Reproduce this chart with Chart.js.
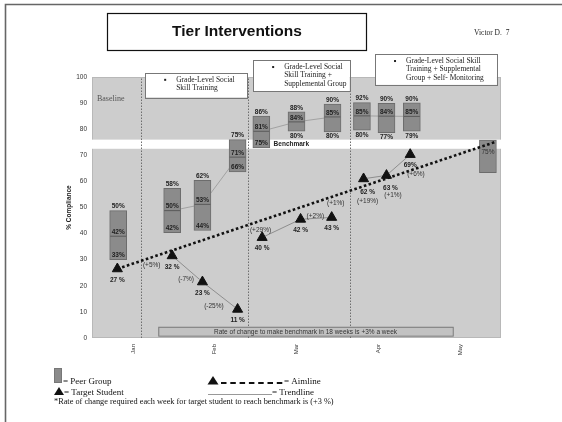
<!DOCTYPE html>
<html>
<head>
<meta charset="utf-8">
<script src="https://cdn.jsdelivr.net/npm/chart.js@4.4.1/dist/chart.umd.min.js"></script>
<style>
  html, body { margin: 0; padding: 0; background: #fff; }
  #wrap { width: 562px; height: 422px; position: relative; }
</style>
</head>
<body>
<div id="wrap"><canvas id="chart"></canvas></div>
<script>
// months on the x axis (x value = month index, fractions = weeks in between)
const months = ['Jan', 'Feb', 'Mar', 'Apr', 'May'];

// peer group boxes (low / median / high), with the printed labels
const peerX    = [-0.18, 0.48, 0.85, 1.28, 1.57, 2.00, 2.44, 2.80, 3.10, 3.41];
const peerLow  = [30.0, 40.4, 41.2, 63.6, 72.8, 79.2, 79.0, 79.6, 78.7, 79.2];
const peerMid  = [39.0, 48.8, 51.2, 69.3, 79.2, 82.8, 84.7, 85.1, 85.0, 84.9];
const peerHigh = [48.8, 57.3, 60.4, 76.0, 85.0, 86.7, 89.6, 90.2, 89.9, 90.1];
const peerHighText = ['50%', '58%', '62%', '75%', '86%', '88%', '90%', '92%', '90%', '90%'];
const peerMidText  = ['42%', '50%', '53%', '71%', '81%', '84%', '85%', '85%', '84%', '85%'];
const peerLowText  = ['33%', '42%', '44%', '66%', '75%', '80%', '80%', '80%', '77%', '79%'];

// goal box at the end of the year
const goalX = [4.34];
const goalLow = [63.3];
const goalHigh = [75.8];
const goalText = ['75%'];

// target student
const studentX = [-0.19, 0.48, 0.85, 1.28, 1.58, 2.05, 2.43, 2.82, 3.10, 3.39];
const studentY = [26.5, 31.5, 21.5, 11.0, 38.5, 45.5, 46.2, 61.0, 62.3, 70.3];
const studentText = ['27 %', '32 %', '23 %', '11 %', '40 %', '42 %', '43 %', '62 %', '63 %', '69%'];

// week to week change labels
const changeX = [0.23, 0.65, 0.99, 1.56, 2.23, 2.48, 2.87, 3.18, 3.46];
const changeY = [27.7, 22.7, 12.3, 41.2, 46.7, 51.8, 52.4, 54.6, 62.6];
const changeText = ['(+5%)', '(-7%)', '(-25%)', '(+29%)', '(+2%)', '(+1%)', '(+19%)', '(+1%)', '(+6%)'];

// phases (tier changes) and their descriptions
const phaseStart = [0.1, 1.41, 2.66];
const phaseText = [
  ['Grade-Level Social', 'Skill Training'],
  ['Grade-Level Social', 'Skill Training +', 'Supplemental Group'],
  ['Grade-Level Social Skill', 'Training + Supplemental', 'Group + Self- Monitoring']
];
// the points that are joined by a trendline inside each phase
const phaseMembers = [[1, 2, 3], [4, 5, 6], [7, 8, 9]];

const benchmarkLow = 72.5;
const benchmarkHigh = 76;
const aimX = [-0.19, 4.42];
const aimY = [26.5, 75];

const SANS = '"Liberation Sans", Arial, sans-serif';
const SERIF = '"Liberation Serif", "Times New Roman", serif';

function font(size, weight, family) {
  return (weight || 'normal') + ' ' + size + 'px ' + family;
}

function trendSet(xs, ys, idx, color) {
  return {
    type: 'line',
    data: idx.map(i => ({x: xs[i], y: ys[i]})),
    borderColor: color,
    borderWidth: 1,
    pointRadius: 0,
    order: 10
  };
}

const datasets = [];
phaseMembers.forEach(g => datasets.push(trendSet(peerX, peerMid, g, '#a2a2a2')));
phaseMembers.forEach(g => datasets.push(trendSet(studentX, studentY, g, '#8e8e8e')));
datasets.push({
  type: 'bar',
  data: peerX.map((x, i) => ({x: x, y: [peerLow[i], peerHigh[i]]})),
  backgroundColor: '#8b8b8b',
  borderColor: '#6c6c6c',
  borderWidth: 1,
  borderSkipped: false,
  barThickness: 17,
  grouped: false,
  order: 8
});
datasets.push({
  type: 'bar',
  data: goalX.map((x, i) => ({x: x, y: [goalLow[i], goalHigh[i]]})),
  backgroundColor: '#8b8b8b',
  borderColor: '#6c6c6c',
  borderWidth: 1,
  borderSkipped: false,
  barThickness: 17,
  grouped: false,
  order: 8
});
datasets.push({
  type: 'scatter',
  data: peerX.map((x, i) => ({x: x, y: peerMid[i]})),
  pointStyle: 'line',
  pointRadius: 8,
  pointBorderColor: '#5a5a5a',
  pointBorderWidth: 1,
  showLine: false,
  order: 6
});
datasets.push({
  type: 'line',
  data: aimX.map((x, i) => ({x: x, y: aimY[i]})),
  borderColor: '#111',
  borderWidth: 2.6,
  borderDash: [2.6, 2.4],
  pointRadius: 0,
  order: 4
});
datasets.push({
  type: 'scatter',
  data: studentX.map((x, i) => ({x: x, y: studentY[i]})),
  pointStyle: 'triangle',
  pointRadius: 5.8,
  backgroundColor: '#111',
  borderColor: '#111',
  borderWidth: 1,
  order: 1
});

function text(ctx, str, x, y, f, color, align) {
  ctx.font = f;
  ctx.fillStyle = color || '#222';
  ctx.textAlign = align || 'center';
  ctx.textBaseline = 'middle';
  ctx.fillText(str, x, y);
}

const decor = {
  id: 'decor',
  beforeDraw(chart) {
    const ctx = chart.ctx;
    ctx.save();
    ctx.fillStyle = '#fff';
    ctx.fillRect(0, 0, chart.width, chart.height);
    // page frame
    ctx.strokeStyle = '#666';
    ctx.lineWidth = 1.6;
    ctx.beginPath();
    ctx.moveTo(chart.width, 4.5);
    ctx.lineTo(5.5, 4.5);
    ctx.lineTo(5.5, chart.height);
    ctx.stroke();
    // title box
    ctx.fillStyle = '#fff';
    ctx.fillRect(107.5, 13.5, 259, 37);
    ctx.strokeStyle = '#111';
    ctx.lineWidth = 1.2;
    ctx.strokeRect(107.5, 13.5, 259, 37);
    text(ctx, 'Tier Interventions', 237, 32, font(15.5, 'bold', SANS), '#111');
    text(ctx, 'Victor D.  7', 474, 33, font(7.5, 'normal', SERIF), '#222', 'left');
    ctx.restore();
  },
  beforeDatasetsDraw(chart) {
    const {ctx, chartArea: a, scales: {x, y}} = chart;
    ctx.save();
    ctx.fillStyle = '#cdcdcd';
    ctx.fillRect(a.left, a.top, a.right - a.left, a.bottom - a.top);
    ctx.strokeStyle = '#b8b8b8';
    ctx.lineWidth = 1;
    ctx.strokeRect(a.left + 0.5, a.top + 0.5, a.right - a.left - 1, a.bottom - a.top - 1);
    // benchmark band
    const bt = y.getPixelForValue(benchmarkHigh), bb = y.getPixelForValue(benchmarkLow);
    ctx.fillStyle = '#fff';
    ctx.fillRect(a.left, bt, a.right - a.left, bb - bt);
    // phase change lines
    ctx.strokeStyle = '#6e6e6e';
    ctx.lineWidth = 1;
    ctx.setLineDash([1.5, 1.5]);
    phaseStart.forEach(v => {
      const px = Math.round(x.getPixelForValue(v)) + 0.5;
      ctx.beginPath();
      ctx.moveTo(px, a.bottom);
      ctx.lineTo(px, a.top);
      ctx.stroke();
    });
    ctx.setLineDash([]);
    text(ctx, 'Baseline', x.getPixelForValue(-0.44), y.getPixelForValue(91.6), font(8, 'normal', SERIF), '#555', 'left');
    // rate of change box
    const rl = x.getPixelForValue(0.31), rr = x.getPixelForValue(3.91);
    const rt = y.getPixelForValue(4.3), rb = y.getPixelForValue(0.9);
    ctx.fillStyle = '#c2c2c2';
    ctx.fillRect(rl, rt, rr - rl, rb - rt);
    ctx.strokeStyle = '#7a7a7a';
    ctx.strokeRect(rl + 0.5, rt + 0.5, rr - rl, rb - rt);
    text(ctx, 'Rate of change to make benchmark in 18 weeks is +3% a week', (rl + rr) / 2, (rt + rb) / 2 + 0.5,
      font(6.5, 'normal', SANS), '#333');
    ctx.restore();
  },
  afterDatasetsDraw(chart) {
    const {ctx, scales: {x, y}} = chart;
    ctx.save();
    const lf = font(6.5, 'bold', SANS);
    peerX.forEach((v, i) => {
      const px = x.getPixelForValue(v);
      text(ctx, peerHighText[i], px, y.getPixelForValue(peerHigh[i]) - 4, lf, '#222');
      text(ctx, peerMidText[i], px, y.getPixelForValue(peerMid[i]) - 4, lf, '#222');
      const below = i >= 5;
      const lowY = y.getPixelForValue(peerLow[i]) + (below ? 4.5 : -4.5);
      text(ctx, peerLowText[i], px, lowY, lf, '#222');
    });
    goalX.forEach((v, i) => {
      text(ctx, goalText[i], x.getPixelForValue(v), y.getPixelForValue(goalHigh[i]) + 12, font(6.5, 'normal', SANS), '#333');
    });
    studentX.forEach((v, i) => {
      const shift = (i === 7 || i === 8) ? 4 : 0;
      text(ctx, studentText[i], x.getPixelForValue(v) + shift, y.getPixelForValue(studentY[i]) + 11 + shift / 2, lf, '#222');
    });
    changeX.forEach((v, i) => {
      text(ctx, changeText[i], x.getPixelForValue(v), y.getPixelForValue(changeY[i]), font(6.5, 'normal', SANS), '#333');
    });
    text(ctx, 'Benchmark', x.getPixelForValue(1.72), y.getPixelForValue(74.3), font(6.5, 'bold', SANS), '#222', 'left');

    // phase description boxes (placed on the x scale, above the top of the y range)
    const boxes = [
      {l: 0.15, r: 1.40, t: 101.6, b: 92.2},
      {l: 1.47, r: 2.65, t: 106.5, b: 94.6},
      {l: 2.96, r: 4.45, t: 108.8, b: 97.0}
    ];
    boxes.forEach((bx, i) => {
      const l = x.getPixelForValue(bx.l), r = x.getPixelForValue(bx.r);
      const t = y.getPixelForValue(bx.t), b = y.getPixelForValue(bx.b);
      ctx.fillStyle = '#fff';
      ctx.fillRect(l, t, r - l, b - t);
      ctx.strokeStyle = '#777';
      ctx.lineWidth = 1;
      ctx.strokeRect(Math.round(l) + 0.5, Math.round(t) + 0.5, Math.round(r - l), Math.round(b - t));
      const lines = phaseText[i];
      const lh = 8.3;
      const startY = t + 7;
      const bulletX = l + 20;
      ctx.fillStyle = '#222';
      ctx.fillRect(bulletX - 1, startY - 1, 2, 2);
      lines.forEach((s, k) => {
        text(ctx, s, bulletX + 11, startY + k * lh, font(7.5, 'normal', SERIF), '#222', 'left');
      });
    });
    ctx.restore();
  },
  afterDraw(chart) {
    const ctx = chart.ctx;
    ctx.save();
    const lf = font(9, 'normal', SERIF);
    // peer group swatch
    ctx.fillStyle = '#8b8b8b';
    ctx.fillRect(54, 368, 8, 15);
    ctx.strokeStyle = '#777';
    ctx.lineWidth = 1;
    ctx.strokeRect(54.5, 368.5, 7, 14);
    text(ctx, '= Peer Group', 63, 381.5, lf, '#111', 'left');
    // triangles
    ctx.fillStyle = '#111';
    ctx.beginPath();
    ctx.moveTo(59, 387); ctx.lineTo(64, 395); ctx.lineTo(54, 395); ctx.closePath();
    ctx.fill();
    text(ctx, '= Target Student', 64, 392.5, lf, '#111', 'left');
    ctx.beginPath();
    ctx.moveTo(213, 376); ctx.lineTo(218.5, 384.5); ctx.lineTo(207.5, 384.5); ctx.closePath();
    ctx.fill();
    ctx.strokeStyle = '#111';
    ctx.lineWidth = 2;
    ctx.setLineDash([5.5, 3.8]);
    ctx.beginPath();
    ctx.moveTo(221, 383); ctx.lineTo(283, 383);
    ctx.stroke();
    ctx.setLineDash([]);
    text(ctx, '= Aimline', 284, 381.5, lf, '#111', 'left');
    ctx.strokeStyle = '#999';
    ctx.lineWidth = 1.2;
    ctx.beginPath();
    ctx.moveTo(208, 394.5); ctx.lineTo(272, 394.5);
    ctx.stroke();
    text(ctx, '= Trendline', 272, 392.5, lf, '#111', 'left');
    text(ctx, '*Rate of change required each week for target student to reach benchmark is (+3 %)', 54, 402,
      font(8.3, 'normal', SERIF), '#111', 'left');
    ctx.restore();
  }
};

new Chart(document.getElementById('chart'), {
  type: 'bar',
  data: {datasets: datasets},
  options: {
    responsive: true,
    maintainAspectRatio: false,
    animation: false,
    events: [],
    layout: {padding: {left: 60, top: 77, right: 61, bottom: 0}},
    plugins: {
      legend: {display: false},
      tooltip: {enabled: false},
      title: {display: false}
    },
    scales: {
      x: {
        type: 'linear',
        min: -0.5,
        max: 4.5,
        offset: false,
        grid: {display: false, drawTicks: false},
        border: {display: false},
        afterBuildTicks: axis => { axis.ticks = months.map((m, i) => ({value: i})); },
        afterFit: axis => { axis.height = 84; },
        ticks: {
          callback: v => months[v],
          minRotation: 90,
          maxRotation: 90,
          padding: 6,
          color: '#333',
          font: {family: SANS, size: 6}
        }
      },
      y: {
        min: 0,
        max: 100,
        grid: {display: false, drawTicks: false},
        border: {display: false},
        afterFit: axis => { axis.width = 32; },
        ticks: {stepSize: 10, padding: 5, color: '#333', font: {family: SANS, size: 6.5}},
        title: {
          display: true,
          text: '% Compliance',
          color: '#222',
          padding: {top: 5, bottom: 0},
          font: {family: SANS, size: 6.5, weight: 'bold'}
        }
      }
    }
  },
  plugins: [decor]
});
</script>
</body>
</html>
